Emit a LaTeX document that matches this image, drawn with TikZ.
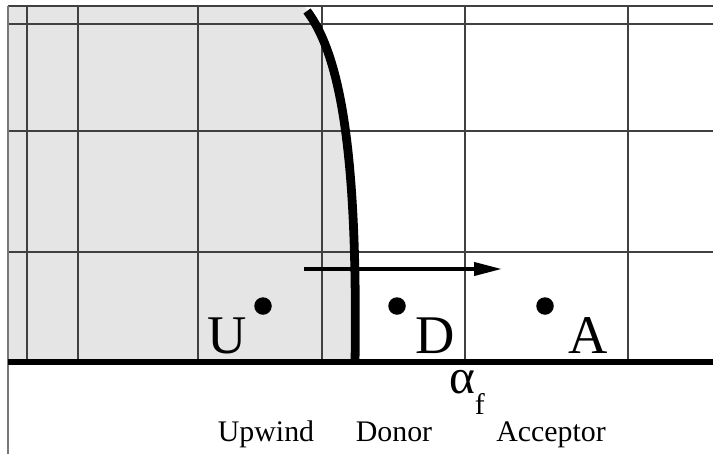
\documentclass[tikz,border=0pt]{standalone}
\usepackage{fontspec}
\setmainfont{Liberation Serif}
\usetikzlibrary{arrows.meta}
\definecolor{cellgray}{RGB}{229,229,229}
\definecolor{gridgray}{RGB}{64,64,64}
\definecolor{framegray}{RGB}{120,120,120}

\begin{document}
\begin{tikzpicture}[
    grid line/.style={gridgray, line width=0.8pt},
    cell label/.style={inner sep=0pt, anchor=base, font=\fontsize{31}{31}\selectfont},
    name label/.style={inner sep=0pt, anchor=base, font=\fontsize{17}{17}\selectfont},
    centroid/.style={circle, fill=black, inner sep=0pt, minimum size=0.35cm}]
  \useasboundingbox (0,0) rectangle (14.26,9.08);

  % upwind fluid, left of the interface
  \fill[cellgray] (0.16,8.94) -- (6.10,8.94) -- (6.14,8.86)
    .. controls (6.80,7.98) and (7.16,6.08) .. (7.10,1.84) -- (0.16,1.84) -- cycle;

  % mesh
  \foreach \x in {0.54,1.56,3.96,6.44,9.30,12.56}
    \draw[grid line] (\x,8.96) -- (\x,1.84);
  \foreach \y in {8.96,8.60,6.46,4.04}
    \draw[grid line] (0.16,\y) -- (14.26,\y);
  \draw[framegray, line width=0.8pt] (0.16,8.96) -- (0.16,0);

  % wall
  \draw[line width=3.4pt] (0.16,1.84) -- (14.26,1.84);

  % interface
  \draw[line width=5pt] (6.14,8.86) .. controls (6.80,7.98) and (7.16,6.08) .. (7.10,1.80);

  % velocity
  \coordinate (vtail) at (6.08,3.70);
  \coordinate (vhead) at (10.04,3.70);
  \draw[-{Triangle[length=0.56cm,width=0.26cm]}, line width=2.2pt] (vtail) -- (vhead);

  % cell centres
  \node[centroid] (cu) at (5.26,2.96) {};
  \node[centroid] (cd) at (7.94,2.96) {};
  \node[centroid] (ca) at (10.90,2.96) {};
  \node[cell label] (U) at (4.54,2.02) {U};
  \node[cell label] (D) at (8.70,2.02) {D};
  \node[cell label] (A) at (11.76,2.02) {A};

  % face
  \node[anchor=base, inner sep=0pt] (alpha) at (9.34,1.22)
    {\fontsize{28}{28}\selectfont α\raisebox{-12pt}{\fontsize{17}{17}\selectfont f}};

  \node[name label] (upwind) at (5.32,0.26) {Upwind};
  \node[name label] (donor) at (7.88,0.26) {Donor};
  \node[name label] (acceptor) at (11.02,0.26) {Acceptor};
\end{tikzpicture}
\end{document}
